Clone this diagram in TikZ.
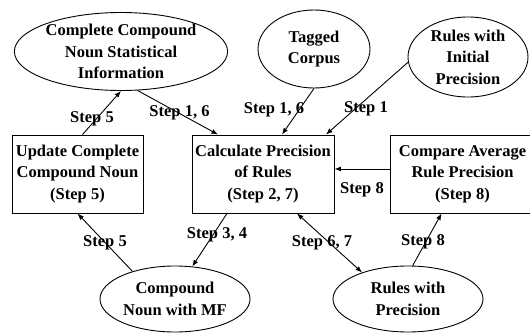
\documentclass[tikz,border=0pt]{standalone}
\usepackage{fontspec}
\setmainfont{Liberation Serif}
\usetikzlibrary{shapes.geometric,arrows.meta}
\begin{document}
\begin{tikzpicture}[x=1pt,y=-1pt,
  txt/.style={font=\bfseries\fontsize{16.5}{21.5}\selectfont},
  ell/.style={txt, draw, ellipse, inner sep=0pt, align=center, line width=0.9pt},
  box/.style={txt, draw, rectangle, inner sep=0pt, align=center, line width=0.9pt},
  lbl/.style={txt, inner sep=0pt},
  arr/.style={line width=0.9pt, -{Latex[length=6.5pt,width=5pt]}},
  darr/.style={line width=0.9pt, {Latex[length=6.5pt,width=5pt]}-{Latex[length=6.5pt,width=5pt]}}]
\useasboundingbox (0,0) rectangle (530,332);
\fill[white] (0,0) rectangle (530,332);

% ellipses
\node[ell, minimum width=212pt, minimum height=78pt] (A) at (121,51.5)
  {Complete Compound\\Noun Statistical\\Information};
\node[ell, minimum width=112pt, minimum height=78pt] (B) at (314,49)
  {Tagged\\Corpus};
\node[ell, minimum width=120pt, minimum height=80pt] (C) at (468,57)
  {Rules with\\Initial\\Precision};
\node[ell, minimum width=150pt, minimum height=66pt] (G) at (175,299)
  {Compound\\Noun with MF};
\node[ell, minimum width=150pt, minimum height=66pt] (H) at (408,299)
  {Rules with\\Precision};

% boxes
\node[box, minimum width=131pt, minimum height=78pt] (D) at (77.5,174)
  {Update Complete\\Compound Noun\\(Step 5)};
\node[box, minimum width=142pt, minimum height=78pt] (E) at (263,174)
  {Calculate Precision\\of Rules\\(Step 2, 7)};
\node[box, minimum width=145pt, minimum height=78pt] (F) at (462.5,174)
  {Compare Average\\Rule Precision\\(Step 8)};

% connectors
\draw[arr] ([xshift=5pt]D.north) -- (A.south);
\draw[arr] (A.-67) -- ([xshift=-45pt]E.north);
\draw[arr] (B.south) -- ([xshift=19pt]E.north);
\draw[arr] (C.185) -- ([xshift=63pt]E.north);
\draw[arr] ([yshift=5pt]F.west) -- ([yshift=5pt]E.east);
\draw[arr] ([xshift=-36pt]E.south) -- (G.62);
\draw[arr] (G.147) -- (D.south);
\draw[darr] ([xshift=34pt]E.south) -- (H.150);
\draw[arr] (H.82) -- ([xshift=52pt]F.south west);

% labels
\node[lbl] (l1) at (92,119) {Step 5};
\node[lbl] (l2) at (179.5,113) {Step 1, 6};
\node[lbl] (l3) at (274,110) {Step 1, 6};
\node[lbl] (l4) at (366,109) {Step 1};
\node[lbl] (l5) at (362,190) {Step 8};
\node[lbl] (l6) at (217,235) {Step 3, 4};
\node[lbl] (l7) at (105,243) {Step 5};
\node[lbl] (l8) at (322,243) {Step 6, 7};
\node[lbl] (l9) at (423,242) {Step 8};
\end{tikzpicture}
\end{document}
